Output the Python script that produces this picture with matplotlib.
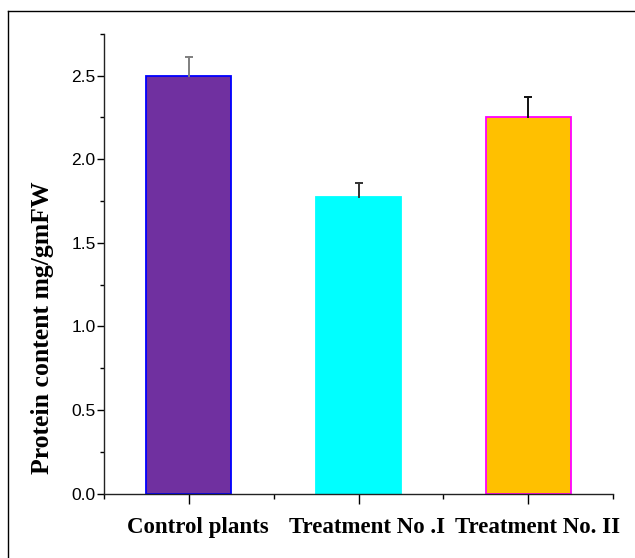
#!/usr/bin/env python3
"""
Protein content bar chart (control vs. two treatments)
"""

import matplotlib
matplotlib.use("Agg")
import matplotlib.pyplot as plt
import matplotlib.transforms as mtransforms
from matplotlib.lines import Line2D
from matplotlib.ticker import MultipleLocator, FixedLocator

# ============================================================================
# Data
# ============================================================================

categories = ["Control plants", "Treatment No .I", "Treatment No. II"]
protein = [2.50, 1.775, 2.25]
protein_err = [0.11, 0.08, 0.12]

fill_colors = ["#7030A0", "#00FFFF", "#FFC000"]
edge_colors = ["#0000FF", "#00FFFF", "#FF00FF"]
err_colors = ["#7f7f7f", "#333333", "#111111"]

# ============================================================================
# Figure
# ============================================================================

W, H = 635, 558
fig = plt.figure(figsize=(W / 100, H / 100), dpi=100)
ax_w = 613 - 104
ax = fig.add_axes([104 / W, (H - 493.7) / H, ax_w / W, (493.7 - 33.7) / H])

x = [1, 2, 3]
ax.bar(x, protein, width=0.5, color=fill_colors, edgecolor=edge_colors,
       linewidth=1.3, zorder=2)

# upper error bars only (stem + top cap)
for xi, val, err, col in zip(x, protein, protein_err, err_colors):
    ax.plot([xi, xi], [val, val + err], color=col, linewidth=1.4, zorder=3)
    ax.plot([xi], [val + err], marker="_", markersize=6, markeredgewidth=1.4,
            color=col, zorder=3)

ax.set_xlim(0.5, 3.5)
ax.set_ylim(0, 2.75)

# axes styling
for side in ["top", "right"]:
    ax.spines[side].set_visible(False)
for side in ["left", "bottom"]:
    ax.spines[side].set_linewidth(1.0)
    ax.spines[side].set_color("#222222")

ax.yaxis.set_major_locator(MultipleLocator(0.5))
ax.yaxis.set_minor_locator(MultipleLocator(0.25))
ax.set_yticklabels([f"{v:.1f}" for v in ax.get_yticks()],
                   fontsize=12.5, family="Liberation Sans")
ax.tick_params(axis="y", which="major", length=5, width=1, direction="out", pad=1)
ax.tick_params(axis="y", which="minor", length=2.7, width=1, direction="out")

ax.set_xticks(x)
ax.set_xticklabels(categories, fontsize=16.5, family="Liberation Serif",
                   fontweight="bold")
ax.xaxis.set_minor_locator(FixedLocator([0.5, 1.5, 2.5, 3.5]))
ax.tick_params(axis="x", which="major", length=7, width=1, direction="out", pad=10)
ax.tick_params(axis="x", which="minor", length=3.6, width=1, direction="out")

# category labels sit a little right of their ticks in the original
shift = mtransforms.ScaledTranslation(9 / 100, 0, fig.dpi_scale_trans)
for lab in ax.get_xticklabels():
    lab.set_transform(lab.get_transform() + shift)

ax.set_ylabel("Protein content mg/gmFW", fontsize=18.5, family="Liberation Serif",
              fontweight="bold")
ax.yaxis.set_label_coords(-50 / ax_w, 0.36)

# outer frame (left and top edges only visible in the original)
fig.add_artist(Line2D([8 / W, 8 / W], [0, (H - 10.5) / H], color="black",
                      linewidth=1.0, transform=fig.transFigure))
fig.add_artist(Line2D([8 / W, 1], [(H - 10.5) / H, (H - 10.5) / H],
                      color="black", linewidth=1.0, transform=fig.transFigure))

fig.savefig("out.png", dpi=100)
